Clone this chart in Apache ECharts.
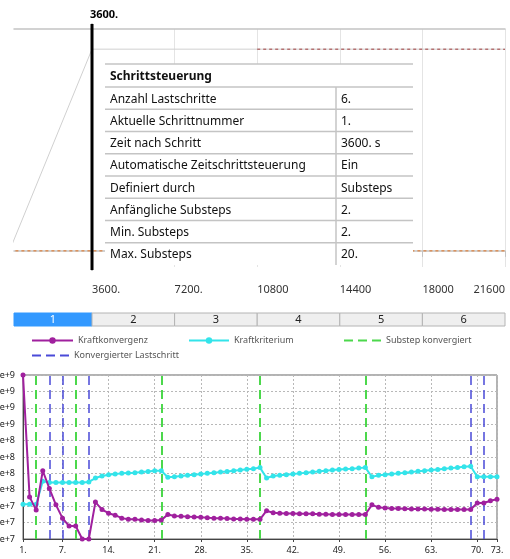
<!DOCTYPE html>
<html><head><meta charset="utf-8">
<script src="https://cdn.jsdelivr.net/npm/echarts@6/dist/echarts.min.js"></script>
<style>html,body{margin:0;padding:0;background:#fff}#c{width:510px;height:559px}</style>
</head><body><div id="c"></div>
<script>
// ---------- data: top timeline ----------
const timeAxisMin = 200;
const timeAxisMax = 21600;
const timeTicks = [3600, 7200, 10800, 14400, 18000, 21600];
const timeTickLabels = ['3600.', '7200.', '10800', '14400', '18000', '21600'];
const currentTime = 3600;
const currentTimeLabel = '3600.';
const loadCurveTime = [0, 3600, 21600];
const loadCurveValue = [0, 1, 1];
const upperDashedTime = [10800, 21600];
const upperDashedValue = [1, 1];
const lowerDashedTime = [0, 21600];
const lowerDashedValue = [0, 0];
const tabLabels = ['1', '2', '3', '4', '5', '6'];
const activeTab = 0;
const tableTitle = 'Schrittsteuerung';
const tableLabels = ['Anzahl Lastschritte', 'Aktuelle Schrittnummer', 'Zeit nach Schritt',
  'Automatische Zeitschrittsteuerung', 'Definiert durch', 'Anfängliche Substeps',
  'Min. Substeps', 'Max. Substeps'];
const tableValues = ['6.', '1.', '3600. s', 'Ein', 'Substeps', '2.', '2.', '20.'];

// ---------- data: convergence chart ----------
const iterations = [1,2,3,4,5,6,7,8,9,10,11,12,13,14,15,16,17,18,19,20,21,22,23,24,25,26,27,28,29,30,
  31,32,33,34,35,36,37,38,39,40,41,42,43,44,45,46,47,48,49,50,51,52,53,54,55,56,57,58,59,60,
  61,62,63,64,65,66,67,68,69,70,71,72,73];
const kraftkonvergenz = [5.6e9, 7.8e7, 4.9e7, 1.95e8, 1.05e8, 5.9e7, 3.7e7, 2.8e7, 2.8e7, 1.78e7,
  1.78e7, 6.5e7, 5.0e7, 4.4e7, 4.1e7, 3.7e7, 3.55e7, 3.55e7, 3.45e7, 3.4e7,
  3.4e7, 3.45e7, 4.2e7, 4.0e7, 3.95e7, 3.9e7, 3.85e7, 3.8e7, 3.75e7, 3.7e7,
  3.7e7, 3.65e7, 3.6e7, 3.6e7, 3.55e7, 3.55e7, 3.55e7, 4.8e7, 4.45e7, 4.4e7,
  4.35e7, 4.35e7, 4.3e7, 4.3e7, 4.3e7, 4.25e7, 4.25e7, 4.2e7, 4.2e7, 4.2e7,
  4.2e7, 4.2e7, 4.2e7, 5.9e7, 5.4e7, 5.3e7, 5.2e7, 5.2e7, 5.15e7, 5.1e7,
  5.1e7, 5.1e7, 5.05e7, 5.05e7, 5.0e7, 5.0e7, 5.0e7, 5.0e7, 5.0e7, 6.3e7,
  6.3e7, 6.8e7, 7.2e7];
const kraftkriterium = [6.0e7, 6.0e7, 6.0e7, 1.35e8, 1.29e8, 1.29e8, 1.29e8, 1.29e8, 1.29e8, 1.29e8,
  1.32e8, 1.51e8, 1.62e8, 1.7e8, 1.74e8, 1.78e8, 1.8e8, 1.82e8, 1.86e8, 1.9e8,
  1.95e8, 1.95e8, 1.55e8, 1.58e8, 1.62e8, 1.66e8, 1.7e8, 1.74e8, 1.78e8, 1.82e8,
  1.86e8, 1.9e8, 1.95e8, 2.0e8, 2.05e8, 2.1e8, 2.18e8, 1.51e8, 1.62e8, 1.66e8,
  1.7e8, 1.74e8, 1.78e8, 1.82e8, 1.86e8, 1.91e8, 1.95e8, 2.0e8, 2.04e8, 2.08e8,
  2.1e8, 2.14e8, 2.18e8, 1.58e8, 1.66e8, 1.7e8, 1.74e8, 1.78e8, 1.82e8, 1.86e8,
  1.91e8, 1.95e8, 2.0e8, 2.04e8, 2.09e8, 2.14e8, 2.19e8, 2.24e8, 2.29e8, 1.58e8,
  1.58e8, 1.58e8, 1.58e8];
const substepConverged = [3, 9, 22, 37, 53];
const loadStepConverged = [5, 7, 11, 69, 71];
const iterTicks = [1, 7, 14, 21, 28, 35, 42, 49, 56, 63, 70, 73];
const logMin = 7.25, logMax = 9.75, logStep = 0.25;

// ---------- chart ----------
const FONT = 'Noto Sans';
const chart = echarts.init(document.getElementById('c'), null, {renderer: 'canvas'});
const pairs = (xs, ys) => xs.map((x, i) => [x, ys[i]]);
const logPairs = (xs, ys) => xs.map((x, i) => [x, Math.log10(ys[i])]);
const fmtExp = v => {
  const n = Math.pow(10, v);
  return n.toExponential(4).replace(/0+e/, 'e');
};
const vLines = arr => arr.map(x => ({xAxis: x}));
const legendBase = {itemHeight: 8, itemGap: 0, padding: 0, selectedMode: false,
  textStyle: {fontSize: 9, color: '#555', fontFamily: FONT}};

const option = {
  animation: false,
  textStyle: {fontFamily: FONT},
  grid: [
    {left: 14, right: 5, top: 29, bottom: 292, outerBoundsMode: 'none', containLabel: false},
    {left: 23, right: 13, top: 375, bottom: 20, show: true, borderColor: '#666', borderWidth: 1,
      outerBoundsMode: 'none', containLabel: false},
    {left: 14, right: 5, top: 24, bottom: 289, outerBoundsMode: 'none', containLabel: false}
  ],
  xAxis: [
    {gridIndex: 0, type: 'value', min: timeAxisMin, max: timeAxisMax,
      axisLine: {lineStyle: {color: '#c4c4c4', width: 1.5}},
      axisTick: {show: true, customValues: timeTicks, length: 6, lineStyle: {color: '#c4c4c4'}},
      axisLabel: {customValues: timeTicks, formatter: v => timeTickLabels[timeTicks.indexOf(v)],
        align: 'left', alignMaxLabel: 'right', margin: 17, color: '#333', fontSize: 11, fontFamily: FONT},
      splitLine: {show: true, lineStyle: {color: '#e4e4e4', width: 1}}},
    {gridIndex: 0, type: 'value', position: 'top', min: timeAxisMin, max: timeAxisMax,
      axisLine: {show: true, lineStyle: {color: '#c4c4c4', width: 1.5}},
      axisTick: {show: false}, axisLabel: {show: false}, splitLine: {show: false}},
    {gridIndex: 1, type: 'value', min: iterations[0], max: iterations[iterations.length - 1],
      axisLine: {lineStyle: {color: '#444'}},
      axisTick: {show: true, customValues: iterTicks, length: 3, lineStyle: {color: '#444'}},
      axisLabel: {customValues: iterTicks, formatter: v => v + '.', color: '#222', fontSize: 9, margin: 7, fontFamily: FONT},
      splitLine: {show: true, lineStyle: {color: '#b8b8b8', type: [2, 2]}}},
    {gridIndex: 2, type: 'value', min: timeAxisMin, max: timeAxisMax, show: false}
  ],
  yAxis: [
    {gridIndex: 0, type: 'value', min: -0.08, max: 1.1, show: false},
    {gridIndex: 1, type: 'value', min: logMin, max: logMax, interval: logStep,
      axisLine: {show: true, lineStyle: {color: '#444'}},
      axisTick: {show: false},
      axisLabel: {formatter: fmtExp, color: '#222', fontSize: 9, margin: 8, fontFamily: FONT},
      splitLine: {show: true, lineStyle: {color: '#b8b8b8', type: [2, 2]}}},
    {gridIndex: 2, type: 'value', min: 0, max: 1, show: false}
  ],
  legend: [
    Object.assign({data: ['Kraftkonvergenz'], left: 31, top: 336, itemWidth: 41}, legendBase),
    Object.assign({data: ['Kraftkriterium'], left: 188, top: 336, itemWidth: 40}, legendBase),
    Object.assign({data: [{name: 'Substep konvergiert', itemStyle: {opacity: 0}}], left: 343, top: 336, itemWidth: 37}, legendBase),
    Object.assign({data: [{name: 'Konvergierter Lastschritt', itemStyle: {opacity: 0}}], left: 31, top: 351, itemWidth: 37}, legendBase)
  ],
  series: [
    {name: 'Last', type: 'line', xAxisIndex: 0, yAxisIndex: 0, data: pairs(loadCurveTime, loadCurveValue),
      symbol: 'none', lineStyle: {color: '#d0d0d0', width: 1}, silent: true, z: 2},
    {name: 'Unten', type: 'line', xAxisIndex: 0, yAxisIndex: 0, data: pairs(lowerDashedTime, lowerDashedValue),
      symbol: 'none', lineStyle: {color: '#e0701e', width: 1, type: [3, 3]}, silent: true, z: 3},
    {name: 'Oben', type: 'line', xAxisIndex: 0, yAxisIndex: 0, data: pairs(upperDashedTime, upperDashedValue),
      symbol: 'none', lineStyle: {color: '#a03c3c', width: 1, type: [3, 3]}, silent: true, z: 3},
    {name: 'Aktuelle Zeit', type: 'line', xAxisIndex: 3, yAxisIndex: 2, silent: true, z: 10,
      data: [[currentTime, 0], {value: [currentTime, 1],
        label: {show: true, position: 'top', formatter: currentTimeLabel, color: '#000',
          fontWeight: 'bold', fontSize: 11, fontFamily: FONT, distance: 3, offset: [12, 0]}}],
      symbol: 'circle', symbolSize: 1, color: '#000', clip: false,
      lineStyle: {color: '#000', width: 3}},
    {name: 'Substep konvergiert', type: 'line', xAxisIndex: 2, yAxisIndex: 1, data: [],
      symbol: 'none', color: '#4cd84c', lineStyle: {color: '#4cd84c', width: 2, type: [9, 5]},
      markLine: {silent: true, symbol: ['none', 'none'], label: {show: false},
        lineStyle: {color: '#4cd84c', width: 2, type: [9, 5]}, data: vLines(substepConverged)}},
    {name: 'Konvergierter Lastschritt', type: 'line', xAxisIndex: 2, yAxisIndex: 1, data: [],
      symbol: 'none', color: '#4a4ad8', lineStyle: {color: '#4a4ad8', width: 2, type: [9, 5]},
      markLine: {silent: true, symbol: ['none', 'none'], label: {show: false},
        lineStyle: {color: '#4a4ad8', width: 1.5, type: [9, 5]}, data: vLines(loadStepConverged)}},
    {name: 'Kraftkriterium', type: 'line', xAxisIndex: 2, yAxisIndex: 1, data: logPairs(iterations, kraftkriterium),
      symbol: 'circle', symbolSize: 5, color: '#33e4ea', lineStyle: {color: '#33e4ea', width: 2}, z: 5},
    {name: 'Kraftkonvergenz', type: 'line', xAxisIndex: 2, yAxisIndex: 1, data: logPairs(iterations, kraftkonvergenz),
      symbol: 'circle', symbolSize: 5, color: '#a0209e', lineStyle: {color: '#a0209e', width: 2}, z: 6}
  ]
};
chart.setOption(option);

// ---------- tabs and table (overlay) ----------
const px = v => chart.convertToPixel({xAxisIndex: 0}, v);
const bounds = [timeAxisMin].concat(timeTicks).map(px);
const tabTop = 313, tabH = 13;
const graphics = [];
tabLabels.forEach((t, i) => {
  const x0 = bounds[i], x1 = bounds[i + 1];
  const active = i === activeTab;
  graphics.push({type: 'rect', shape: {x: x0, y: tabTop, width: x1 - x0, height: tabH},
    style: {fill: active ? '#3399ff' : '#efefef', stroke: active ? '#3399ff' : '#b4b4b4', lineWidth: 1}, z: 20});
  graphics.push({type: 'text', x: (x0 + x1) / 2, y: tabTop + tabH / 2 + 0.5,
    style: {text: t, fill: active ? '#fff' : '#222', font: '11px ' + FONT, align: 'center', verticalAlign: 'middle'}, z: 21});
});

const tX0 = 105, tX1 = 413, tCol = 336, tTop = 64, headH = 23, rowH = 22.25;
graphics.push({type: 'rect', shape: {x: tX0, y: tTop, width: tX1 - tX0, height: headH + rowH * tableLabels.length},
  style: {fill: '#fff'}, z: 30});
graphics.push({type: 'text', x: 110, y: tTop + headH / 2 + 1,
  style: {text: tableTitle, fill: '#111', font: 'bold 12px ' + FONT, verticalAlign: 'middle'}, z: 32});
const lineYs = [tTop, tTop + headH];
tableLabels.forEach((lab, i) => {
  const y0 = tTop + headH + rowH * i;
  lineYs.push(y0 + rowH);
  graphics.push({type: 'text', x: 110, y: y0 + rowH / 2 + 1,
    style: {text: lab, fill: '#111', font: '12px ' + FONT, verticalAlign: 'middle'}, z: 32});
  graphics.push({type: 'text', x: tCol + 5, y: y0 + rowH / 2 + 1,
    style: {text: tableValues[i], fill: '#111', font: '12px ' + FONT, verticalAlign: 'middle'}, z: 32});
});
lineYs.slice(0, lineYs.length - 1).forEach(y => {
  graphics.push({type: 'line', shape: {x1: tX0, y1: y, x2: tX1, y2: y},
    style: {stroke: '#c4c4c4', lineWidth: 1.5}, z: 31});
});
graphics.push({type: 'line', shape: {x1: tCol, y1: tTop + headH, x2: tCol, y2: lineYs[lineYs.length - 1]},
  style: {stroke: '#c4c4c4', lineWidth: 1.5}, z: 31});
chart.setOption({graphic: graphics});
</script>
</body></html>
